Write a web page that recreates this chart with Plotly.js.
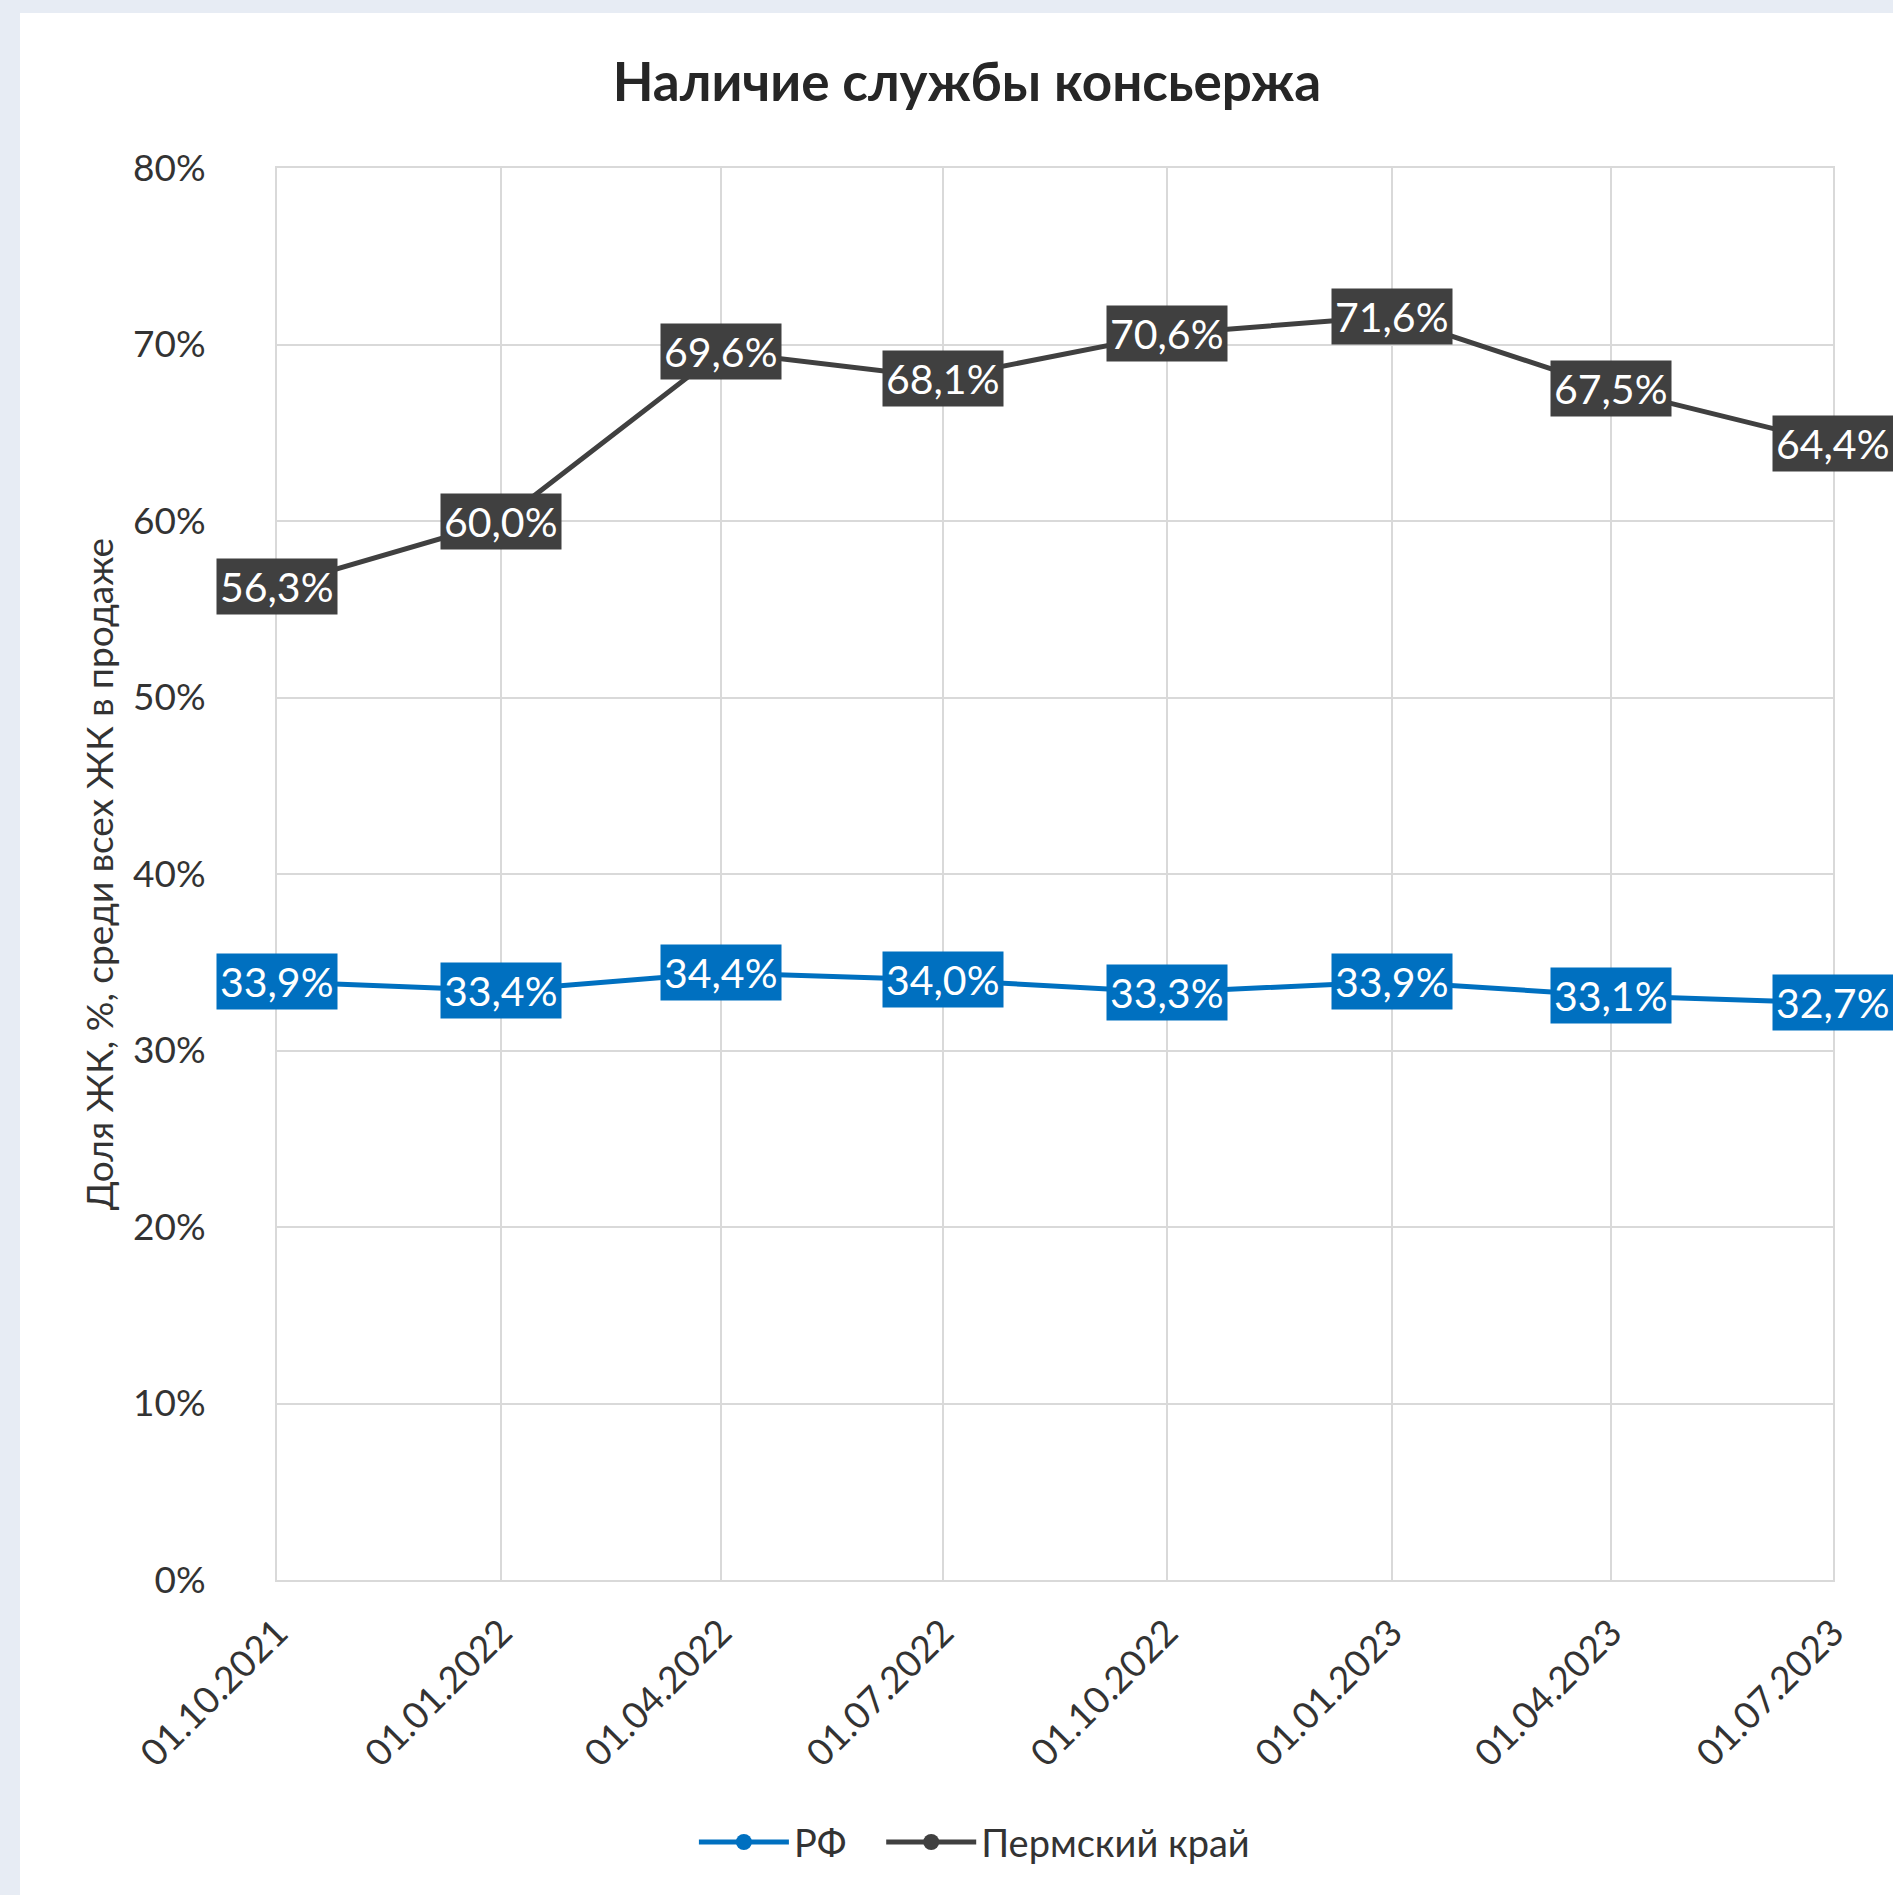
<!DOCTYPE html>
<html>
<head>
<meta charset="utf-8">
<script src="https://cdn.plot.ly/plotly-3.0.1.min.js"></script>
<style>
  html, body { margin: 0; padding: 0; background: #E7ECF4; width: 1893px; height: 1895px; overflow: hidden; }
  #chart { position: absolute; left: 20px; top: 13px; width: 1873px; height: 1882px; background: #fff; }
</style>
</head>
<body>
<div id="chart"></div>
<script>
const dates = ["2021-10-01", "2022-01-01", "2022-04-01", "2022-07-01", "2022-10-01", "2023-01-01", "2023-04-01", "2023-07-01"];
const dateLabels = ["01.10.2021", "01.01.2022", "01.04.2022", "01.07.2022", "01.10.2022", "01.01.2023", "01.04.2023", "01.07.2023"];
const rf = [33.9, 33.4, 34.4, 34.0, 33.3, 33.9, 33.1, 32.7];
const perm = [56.3, 60.0, 69.6, 68.1, 70.6, 71.6, 67.5, 64.4];
const seriesNames = ["РФ", "Пермский край"];
const titleText = "Наличие службы консьержа";
const yTitleText = "Доля ЖК, %, среди всех ЖК в продаже";

const FONT = "Lato, 'Open Sans', sans-serif";
const BLUE = "#0070C0";
const DARK = "#404040";
const GRID = "#D9D9D9";

function fmt(v) { return v.toFixed(1).replace('.', ',') + '%'; }

const traces = [
  { x: dates, y: rf, name: seriesNames[0], type: 'scatter', mode: 'lines+markers', legend: 'legend',
    line: { color: BLUE, width: 5 }, marker: { color: BLUE, size: 16 }, hoverinfo: 'skip' },
  { x: dates, y: perm, name: seriesNames[1], type: 'scatter', mode: 'lines+markers', legend: 'legend2',
    line: { color: DARK, width: 5 }, marker: { color: DARK, size: 16 }, hoverinfo: 'skip' }
];

const annotations = [];
[[rf, BLUE], [perm, DARK]].forEach(([vals, col]) => {
  vals.forEach((v, i) => {
    annotations.push({
      x: dates[i], y: v, xref: 'x', yref: 'y', text: fmt(v), showarrow: false,
      xanchor: 'center', yanchor: 'middle',
      font: { family: FONT, size: 41, color: '#ffffff' },
      bgcolor: col, borderpad: 3
    });
  });
});

const legendBase = {
  orientation: 'h', xref: 'container', yref: 'container', y: 0.028,
  xanchor: 'left', yanchor: 'middle', font: { family: FONT, size: 38, color: '#333333' },
  itemwidth: 90, bgcolor: 'rgba(0,0,0,0)'
};

const layout = {
  width: 1873, height: 1882,
  paper_bgcolor: '#ffffff', plot_bgcolor: '#ffffff',
  margin: { l: 257, r: 60, t: 155, b: 315 },
  font: { family: FONT, color: '#333333', size: 37 },
  title: { text: '<b>' + titleText + '</b>', font: { family: FONT, size: 53, color: '#262626' },
    xref: 'container', yref: 'container', x: 0.5056, y: 0.9633, xanchor: 'center', yanchor: 'middle' },
  xaxis: {
    type: 'date', range: [dates[0], dates[dates.length - 1]],
    tickmode: 'array', tickvals: dates, ticktext: dateLabels, tickangle: -45,
    showgrid: true, gridcolor: GRID, gridwidth: 2,
    showline: true, linecolor: GRID, linewidth: 2, mirror: true,
    ticks: '', tickfont: { family: FONT, size: 37, color: '#333333' },
    ticklabelstandoff: 14, zeroline: false, fixedrange: true
  },
  yaxis: {
    range: [0, 80], dtick: 10, tick0: 0, ticksuffix: '%',
    showgrid: true, gridcolor: GRID, gridwidth: 2,
    showline: true, linecolor: GRID, linewidth: 2, mirror: true,
    ticks: '', tickfont: { family: FONT, size: 37, color: '#333333' },
    ticklabelstandoff: 62, zeroline: false, fixedrange: true,
    title: { text: yTitleText, font: { family: FONT, size: 37, color: '#333333' }, standoff: 8 }
  },
  legend: Object.assign({}, legendBase, { x: 0.3598 }),
  legend2: Object.assign({}, legendBase, { x: 0.4598 }),
  annotations: annotations,
  showlegend: true
};

Plotly.newPlot('chart', traces, layout, { staticPlot: true, displayModeBar: false });
</script>
</body>
</html>
